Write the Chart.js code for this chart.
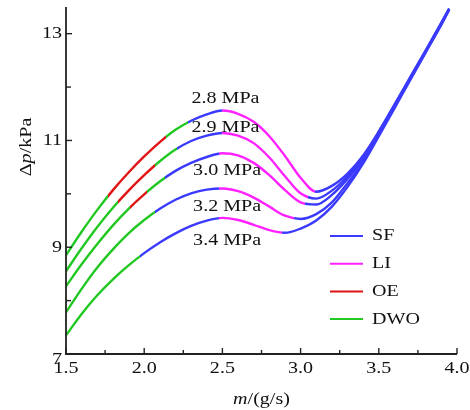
<!DOCTYPE html>
<html>
<head>
<meta charset="utf-8">
<script src="https://cdn.jsdelivr.net/npm/chart.js@4.4.1/dist/chart.umd.min.js"></script>
<style>
  html, body { margin: 0; padding: 0; background: #fff; }
</style>
</head>
<body>
<canvas id="chart" width="470" height="410"></canvas>
<script>
// mass flow rate m (g/s)
const massFlow = [1.5, 1.6, 1.7, 1.8, 1.9, 2.0, 2.1, 2.2, 2.3, 2.4, 2.5, 2.6, 2.7,
  2.8, 2.9, 3.0, 3.1, 3.2, 3.3, 3.4, 3.5, 3.6, 3.7, 3.8, 3.9, 3.95];

// pressure drop (kPa) for each system pressure
const dp28 = [8.85, 9.29, 9.70, 10.07, 10.40, 10.70, 10.97, 11.20, 11.37, 11.49, 11.56, 11.50, 11.35,
  11.08, 10.71, 10.30, 10.04, 10.15, 10.38, 10.72, 11.17, 11.67, 12.18, 12.69, 13.21, 13.47];
const dp29 = [8.55, 8.98, 9.38, 9.74, 10.06, 10.35, 10.61, 10.83, 10.99, 11.09, 11.14, 11.09, 10.95,
  10.68, 10.33, 10.01, 9.91, 10.06, 10.33, 10.68, 11.15, 11.66, 12.17, 12.68, 13.20, 13.47];
const dp30 = [8.27, 8.68, 9.06, 9.41, 9.72, 9.99, 10.23, 10.43, 10.58, 10.69, 10.76, 10.72, 10.58,
  10.35, 10.07, 9.84, 9.80, 9.98, 10.28, 10.65, 11.13, 11.64, 12.16, 12.67, 13.19, 13.46];
const dp32 = [7.78, 8.22, 8.62, 8.96, 9.26, 9.51, 9.72, 9.89, 10.01, 10.08, 10.10, 10.05, 9.93,
  9.76, 9.59, 9.53, 9.62, 9.84, 10.20, 10.60, 11.10, 11.62, 12.14, 12.66, 13.18, 13.45];
const dp34 = [7.35, 7.75, 8.10, 8.40, 8.66, 8.89, 9.09, 9.26, 9.40, 9.50, 9.55, 9.51, 9.42,
  9.32, 9.27, 9.35, 9.50, 9.76, 10.13, 10.57, 11.08, 11.60, 12.13, 12.65, 13.17, 13.45];

const pressureLabels = ['2.8 MPa', '2.9 MPa', '3.0 MPa', '3.2 MPa', '3.4 MPa'];

// regime along each curve: [m where it starts, regime]
const regimes28 = [[1.5, 'DWO'], [1.77, 'OE'], [2.14, 'DWO'], [2.28, 'SF'], [2.50, 'LI'], [3.09, 'SF']];
const regimes29 = [[1.5, 'DWO'], [1.83, 'OE'], [2.07, 'DWO'], [2.21, 'SF'], [2.50, 'LI'], [3.05, 'SF']];
const regimes30 = [[1.5, 'DWO'], [1.91, 'OE'], [2.02, 'DWO'], [2.13, 'SF'], [2.48, 'LI'], [3.03, 'SF']];
const regimes32 = [[1.5, 'DWO'], [2.07, 'SF'], [2.48, 'LI'], [2.96, 'SF']];
const regimes34 = [[1.5, 'DWO'], [1.97, 'SF'], [2.48, 'LI'], [2.88, 'SF']];

const regimeNames = ['SF', 'LI', 'OE', 'DWO'];
const xTickLabels = [1.5, 2.0, 2.5, 3.0, 3.5, 4.0];
const yTickLabels = [7, 9, 11, 13];

const regimeColors = { SF: '#3a3aff', LI: '#ff22ff', OE: '#e01414', DWO: '#22c822' };
const serif = '"Liberation Serif", "Times New Roman", serif';
const fontSize = 17;
const stretch = 1.18;

// where the pressure labels sit, in data units
const labelAt = [[2.52, 11.79], [2.52, 11.25], [2.53, 10.43], [2.53, 9.77], [2.53, 9.13]];

const curves = [dp28, dp29, dp30, dp32, dp34];
const curveRegimes = [regimes28, regimes29, regimes30, regimes32, regimes34];

function regimeGradient(context, regimes) {
  const chart = context.chart;
  const area = chart.chartArea;
  if (!area) return regimeColors.SF;
  const xs = chart.scales.x;
  const pos = m => Math.min(1, Math.max(0, (xs.getPixelForValue(m) - area.left) / area.width));
  const g = chart.ctx.createLinearGradient(area.left, 0, area.right, 0);
  regimes.forEach(([m, name], i) => {
    const end = i + 1 < regimes.length ? pos(regimes[i + 1][0]) : 1;
    g.addColorStop(pos(m), regimeColors[name]);
    g.addColorStop(end, regimeColors[name]);
  });
  return g;
}

const datasets = curves.map((dp, i) => ({
  label: pressureLabels[i],
  data: massFlow.map((m, k) => ({ x: m, y: dp[k] })),
  borderColor: ctx => regimeGradient(ctx, curveRegimes[i]),
  borderWidth: 2.4,
  pointRadius: 0,
  cubicInterpolationMode: 'monotone',
  fill: false
}));

// draws text made of parts (some italic), slightly widened like the original figure
function drawParts(ctx, parts, x, y, align) {
  ctx.save();
  ctx.textBaseline = 'middle';
  ctx.textAlign = 'left';
  const widths = parts.map(p => {
    ctx.font = (p.italic ? 'italic ' : '') + fontSize + 'px ' + serif;
    return ctx.measureText(p.t).width;
  });
  const total = widths.reduce((a, b) => a + b, 0) * stretch;
  let start = x;
  if (align === 'center') start = x - total / 2;
  if (align === 'right') start = x - total;
  ctx.translate(start, y);
  ctx.scale(stretch, 1);
  let cx = 0;
  parts.forEach((p, i) => {
    ctx.font = (p.italic ? 'italic ' : '') + fontSize + 'px ' + serif;
    ctx.fillText(p.t, cx, 0);
    cx += widths[i];
  });
  ctx.restore();
}

const axesPlugin = {
  id: 'axesPlugin',
  afterDraw(chart) {
    const { ctx, chartArea: a, scales: { x, y } } = chart;
    ctx.save();
    ctx.strokeStyle = '#222';
    ctx.fillStyle = '#111';
    ctx.lineWidth = 1.8;
    ctx.beginPath();
    ctx.moveTo(a.left, a.top);
    ctx.lineTo(a.left, a.bottom);
    ctx.lineTo(a.right, a.bottom);
    ctx.stroke();

    // inward ticks
    ctx.lineWidth = 1.4;
    for (let v = 1.5; v <= 4.0001; v += 0.25) {
      const px = x.getPixelForValue(v);
      const len = Math.abs(v * 2 - Math.round(v * 2)) < 1e-6 ? 6 : 4;
      ctx.beginPath();
      ctx.moveTo(px, a.bottom);
      ctx.lineTo(px, a.bottom - len);
      ctx.stroke();
    }
    for (let v = 7; v <= 13; v += 1) {
      const py = y.getPixelForValue(v);
      const len = v % 2 === 1 ? 6 : 5;
      ctx.beginPath();
      ctx.moveTo(a.left, py);
      ctx.lineTo(a.left + len, py);
      ctx.stroke();
    }

    xTickLabels.forEach(v => {
      drawParts(ctx, [{ t: v.toFixed(1) }], x.getPixelForValue(v), a.bottom + 15, 'center');
    });
    yTickLabels.forEach(v => {
      const shift = v === 7 ? 6 : 0;
      drawParts(ctx, [{ t: String(v) }], a.left - 4, y.getPixelForValue(v) + shift, 'right');
    });

    // axis titles
    drawParts(ctx, [{ t: 'm', italic: true }, { t: '/(g/s)' }], (a.left + a.right) / 2, 400, 'center');
    ctx.save();
    ctx.translate(27, 147);
    ctx.rotate(-Math.PI / 2);
    drawParts(ctx, [{ t: 'Δ' }, { t: 'p', italic: true }, { t: '/kPa' }], 0, 0, 'center');
    ctx.restore();

    // pressure labels on the curves
    pressureLabels.forEach((t, i) => {
      drawParts(ctx, [{ t }], x.getPixelForValue(labelAt[i][0]), y.getPixelForValue(labelAt[i][1]), 'center');
    });

    // legend
    regimeNames.forEach((name, i) => {
      const ly = 236 + i * 27.7;
      ctx.strokeStyle = regimeColors[name];
      ctx.lineWidth = 2;
      ctx.beginPath();
      ctx.moveTo(330, ly);
      ctx.lineTo(363, ly);
      ctx.stroke();
      drawParts(ctx, [{ t: name }], 372, ly, 'left');
    });
    ctx.restore();
  }
};

new Chart(document.getElementById('chart'), {
  type: 'line',
  data: { datasets },
  options: {
    responsive: false,
    animation: false,
    devicePixelRatio: 1,
    layout: { padding: { top: 7, right: 13, left: 0, bottom: 0 } },
    plugins: { legend: { display: false }, tooltip: { enabled: false } },
    scales: {
      x: {
        type: 'linear', min: 1.5, max: 4.0,
        ticks: { display: false },
        grid: { display: false },
        border: { display: false },
        afterFit: scale => { scale.height = 56; }
      },
      y: {
        type: 'linear', min: 7, max: 13.5,
        ticks: { display: false },
        grid: { display: false },
        border: { display: false },
        afterFit: scale => { scale.width = 66; }
      }
    }
  },
  plugins: [axesPlugin]
});
</script>
</body>
</html>
